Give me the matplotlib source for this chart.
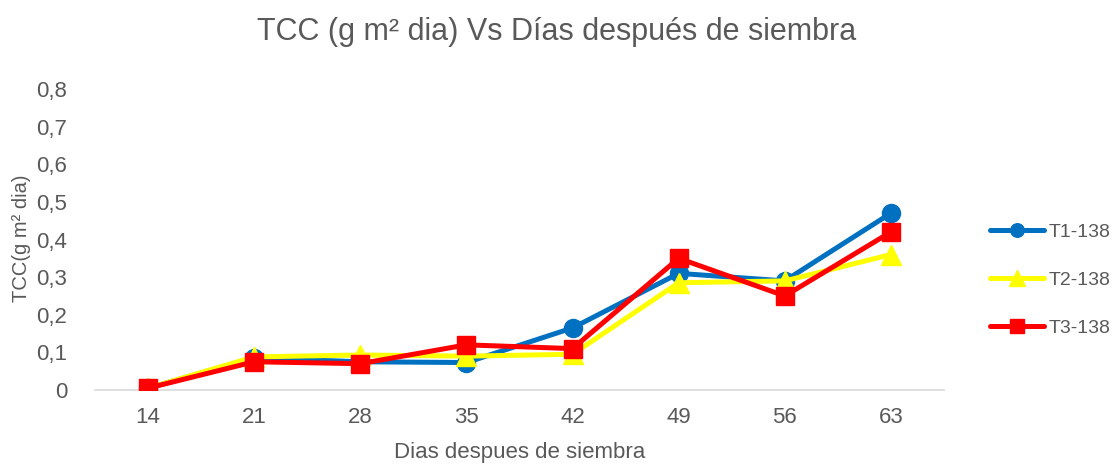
import matplotlib
matplotlib.use("Agg")
import matplotlib.pyplot as plt
from matplotlib.lines import Line2D

days = ["14", "21", "28", "35", "42", "49", "56", "63"]
t1 = [0.005, 0.085, 0.075, 0.073, 0.165, 0.31, 0.29, 0.47]
t2 = [0.005, 0.088, 0.093, 0.09, 0.095, 0.285, 0.29, 0.36]
t3 = [0.005, 0.075, 0.07, 0.12, 0.11, 0.35, 0.25, 0.42]
series_names = ["T1-138", "T2-138", "T3-138"]
yticks = [0, 0.1, 0.2, 0.3, 0.4, 0.5, 0.6, 0.7, 0.8]
ytick_labels = ["0", "0,1", "0,2", "0,3", "0,4", "0,5", "0,6", "0,7", "0,8"]

fam = ["Liberation Sans", "DejaVu Sans"]
plt.rcParams["font.family"] = fam
gray = "#595959"

fig = plt.figure(figsize=(11.14, 4.71), dpi=100)
ax = fig.add_axes([95/1114, 81/471, (944-95)/1114, (390-89)/471])

x = list(range(len(days)))
colors = ["#0070C0", "#FFFF00", "#FF0000"]
markers = ["o", "^", "s"]
msizes = [13, 15, 13]
handles = []
for vals, c, m, ms, name in zip([t1, t2, t3], colors, markers, msizes, series_names):
    ax.plot(x, vals, color=c, lw=3.6, marker=m, ms=ms, mec=c, mfc=c, zorder=3)
    handles.append(Line2D([0], [0], color=c, lw=3.6, marker=m, ms=ms*0.75,
                          mec=c, mfc=c, solid_capstyle="round", label=name))

ax.set_xlim(-0.5, len(days) - 0.5)
ax.set_ylim(0, 0.8)
ax.set_xticks(x)
ax.set_xticklabels(days)
ax.set_yticks(yticks)
ax.set_yticklabels(ytick_labels)
ax.tick_params(axis="both", length=0, labelsize=16, colors=gray)
ax.tick_params(axis="y", pad=20)
ax.tick_params(axis="x", pad=12)
for s in ["top", "right", "left"]:
    ax.spines[s].set_visible(False)
ax.spines["bottom"].set_color("#D9D9D9")
ax.spines["bottom"].set_linewidth(1.2)

ax.set_xlabel("Dias despues de siembra", fontsize=16, color=gray, labelpad=10)
fig.text(22/1114, 1 - 238/471, "TCC(g m² dia)", rotation=90, fontsize=14.5,
         color=gray, ha="center", va="center")
fig.text(0.5, 1 - 32/471, "TCC (g m² dia) Vs Días después de siembra",
         fontsize=22, color=gray, ha="center", va="center")

leg = fig.legend(handles=handles, loc="center left",
                 bbox_to_anchor=(990/1114, 1 - 280/471), frameon=False,
                 borderaxespad=0, borderpad=0,
                 fontsize=14, labelcolor=gray, handlelength=2.8,
                 handletextpad=0.2, labelspacing=1.55)

fig.savefig("out.png", dpi=100)
